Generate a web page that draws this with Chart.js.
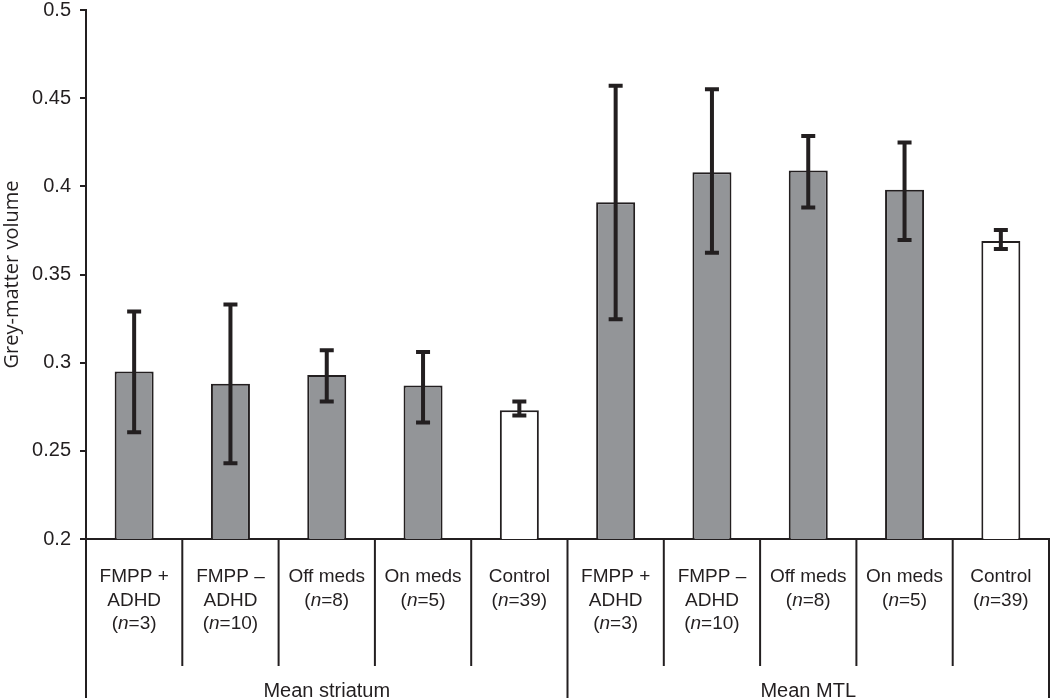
<!DOCTYPE html>
<html>
<head>
<meta charset="utf-8">
<script src="https://cdn.jsdelivr.net/npm/chart.js@4/dist/chart.umd.min.js"></script>
<style>
    html, body { margin: 0; padding: 0; background: #fff; }
    canvas { display: block; }
</style>
</head>
<body>
<canvas id="volumeChart" width="1050" height="698"></canvas>
<script>
// Données
const groups = ['Mean striatum', 'Mean MTL'];
const subgroupLines = [
    ['FMPP +', 'ADHD', '(n=3)'],
    ['FMPP \u2013', 'ADHD', '(n=10)'],
    ['Off meds', '(n=8)'],
    ['On meds', '(n=5)'],
    ['Control', '(n=39)']
];
const categories = [
    'FMPP + ADHD (n=3)', 'FMPP \u2013 ADHD (n=10)', 'Off meds (n=8)', 'On meds (n=5)', 'Control (n=39)',
    'FMPP + ADHD (n=3)', 'FMPP \u2013 ADHD (n=10)', 'Off meds (n=8)', 'On meds (n=5)', 'Control (n=39)'
];
const means   = [0.295, 0.288, 0.293, 0.287, 0.273, 0.391, 0.408, 0.409, 0.398, 0.369];
const errLow  = [0.2605, 0.243, 0.278, 0.266, 0.270, 0.3246, 0.3624, 0.388, 0.3696, 0.3645];
const errHigh = [0.329, 0.333, 0.307, 0.306, 0.278, 0.457, 0.455, 0.4286, 0.4248, 0.3753];
const yTickLabels = ['0.2', '0.25', '0.3', '0.35', '0.4', '0.45', '0.5'];

const ink = '#231f20';
const grey = '#939598';
const labelFont = "'Liberation Sans', Arial, sans-serif";

// Barres d'erreur
const errorBars = {
    id: 'errorBars',
    afterDatasetsDraw(chart) {
        const { ctx, scales: { x, y } } = chart;
        ctx.save();
        ctx.strokeStyle = ink;
        ctx.lineWidth = 4;
        means.forEach((m, i) => {
            const cx = x.getPixelForValue(i);
            const yHi = y.getPixelForValue(errHigh[i]);
            const yLo = y.getPixelForValue(errLow[i]);
            ctx.beginPath();
            ctx.moveTo(cx, yHi);
            ctx.lineTo(cx, yLo);
            ctx.moveTo(cx - 7, yHi);
            ctx.lineTo(cx + 7, yHi);
            ctx.moveTo(cx - 7, yLo);
            ctx.lineTo(cx + 7, yLo);
            ctx.stroke();
        });
        ctx.restore();
    }
};

// Tableau des catégories sous l'axe
function drawMixedLine(ctx, text, cx, baseline) {
    const m = text.match(/^\((n)(=.*)$/);
    if (!m) {
        ctx.font = '19px ' + labelFont;
        ctx.textAlign = 'center';
        ctx.fillText(text, cx, baseline);
        return;
    }
    const parts = [
        { t: '(', f: '19px ' + labelFont },
        { t: 'n', f: 'italic 19px ' + labelFont },
        { t: m[2], f: '19px ' + labelFont }
    ];
    let total = 0;
    parts.forEach(p => { ctx.font = p.f; p.w = ctx.measureText(p.t).width; total += p.w; });
    let px = cx - total / 2;
    ctx.textAlign = 'left';
    parts.forEach(p => { ctx.font = p.f; ctx.fillText(p.t, px, baseline); px += p.w; });
}

const categoryTable = {
    id: 'categoryTable',
    afterDraw(chart) {
        const { ctx, chartArea, scales: { x } } = chart;
        const w = x.getPixelForValue(1) - x.getPixelForValue(0);
        const bottom = chart.height;
        ctx.save();
        ctx.strokeStyle = ink;
        ctx.fillStyle = ink;
        ctx.lineWidth = 2;
        for (let i = 0; i <= categories.length; i++) {
            const bx = i === categories.length ? chartArea.right : x.getPixelForValue(i) - w / 2;
            const full = i % subgroupLines.length === 0;
            ctx.beginPath();
            ctx.moveTo(bx, chartArea.bottom);
            ctx.lineTo(bx, full ? bottom : chartArea.bottom + 127);
            ctx.stroke();
        }
        ctx.textBaseline = 'alphabetic';
        categories.forEach((c, i) => {
            const lines = subgroupLines[i % subgroupLines.length];
            const cx = x.getPixelForValue(i);
            lines.forEach((line, k) => drawMixedLine(ctx, line, cx, chartArea.bottom + 43 + k * 23.5));
        });
        ctx.font = '20px ' + labelFont;
        ctx.textAlign = 'center';
        groups.forEach((g, gi) => {
            const first = gi * subgroupLines.length;
            const last = first + subgroupLines.length - 1;
            const gx = (x.getPixelForValue(first) + x.getPixelForValue(last)) / 2;
            ctx.fillText(g, gx, bottom - 1);
        });
        ctx.restore();
    }
};

const ctx = document.getElementById('volumeChart').getContext('2d');
new Chart(ctx, {
    type: 'bar',
    data: {
        labels: categories,
        datasets: [{
            data: means,
            backgroundColor: means.map((v, i) => i % subgroupLines.length === 4 ? '#ffffff' : grey),
            borderColor: ink,
            borderWidth: 2,
            borderSkipped: 'bottom',
            barPercentage: 0.405,
            categoryPercentage: 1
        }]
    },
    options: {
        responsive: false,
        animation: false,
        layout: {
            padding: { top: 10, right: 1, left: 0, bottom: 0 }
        },
        plugins: {
            legend: { display: false },
            tooltip: { enabled: false }
        },
        scales: {
            x: {
                grid: { display: false, drawTicks: false },
                border: { display: true, color: ink, width: 2 },
                ticks: { display: false },
                afterFit(scale) { scale.height = 159; }
            },
            y: {
                min: 0.2,
                max: 0.5,
                grid: {
                    drawOnChartArea: false,
                    drawTicks: true,
                    tickLength: 6,
                    color: ink,
                    lineWidth: 2
                },
                border: { display: true, color: ink, width: 2 },
                ticks: {
                    stepSize: 0.05,
                    padding: 9,
                    color: ink,
                    font: { family: labelFont, size: 20 },
                    callback: (v) => yTickLabels.find(t => Math.abs(parseFloat(t) - v) < 1e-6) || ''
                },
                title: {
                    display: true,
                    text: 'Grey-matter volume',
                    color: ink,
                    font: { family: "'Open Sans', sans-serif", size: 20 },
                    padding: { top: 0, bottom: 0 }
                },
                afterFit(scale) {
                    scale.width = 86;
                    scale.paddingTop = 0;
                    scale.paddingBottom = 0;
                }
            }
        }
    },
    plugins: [errorBars, categoryTable]
});
</script>
</body>
</html>
